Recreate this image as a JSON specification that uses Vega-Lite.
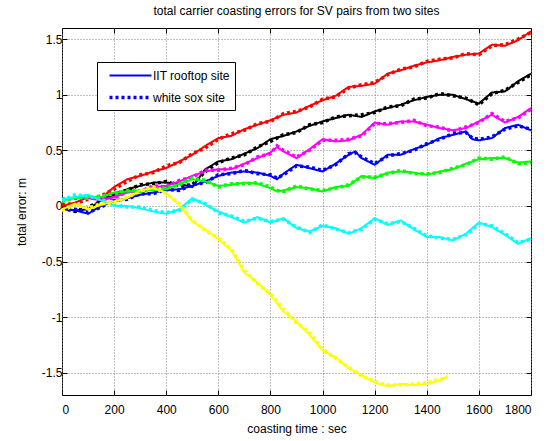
{
  "$schema": "https://vega.github.io/schema/vega-lite/v6.json",
  "autosize": "none",
  "width": 469,
  "height": 367,
  "padding": {"left": 62, "top": 28, "right": 27, "bottom": 46},
  "background": "white",
  "title": {"text": "total carrier coasting errors for SV pairs from two sites", "fontSize": 12, "fontWeight": "normal", "font": "Liberation Sans", "color": "black", "offset": 10},
  "data": {"values": [
    {"t":0,"c":"r","a":0.00,"b":0.01},{"t":50,"c":"r","a":0.03,"b":0.02},{"t":100,"c":"r","a":0.08,"b":0.06},{"t":150,"c":"r","a":0.07,"b":0.09},{"t":200,"c":"r","a":0.17,"b":0.15},{"t":250,"c":"r","a":0.24,"b":0.22},{"t":300,"c":"r","a":0.27,"b":0.28},{"t":350,"c":"r","a":0.31,"b":0.30},{"t":400,"c":"r","a":0.34,"b":0.36},{"t":450,"c":"r","a":0.40,"b":0.39},{"t":500,"c":"r","a":0.46,"b":0.47},{"t":550,"c":"r","a":0.54,"b":0.52},{"t":600,"c":"r","a":0.61,"b":0.60},{"t":650,"c":"r","a":0.63,"b":0.65},{"t":700,"c":"r","a":0.69,"b":0.68},{"t":750,"c":"r","a":0.73,"b":0.74},{"t":800,"c":"r","a":0.77,"b":0.76},{"t":850,"c":"r","a":0.82,"b":0.83},{"t":900,"c":"r","a":0.84,"b":0.85},{"t":950,"c":"r","a":0.90,"b":0.89},{"t":1000,"c":"r","a":0.95,"b":0.96},{"t":1050,"c":"r","a":0.99,"b":0.98},{"t":1100,"c":"r","a":1.07,"b":1.06},{"t":1150,"c":"r","a":1.08,"b":1.09},{"t":1200,"c":"r","a":1.10,"b":1.11},{"t":1250,"c":"r","a":1.19,"b":1.18},{"t":1300,"c":"r","a":1.22,"b":1.23},{"t":1350,"c":"r","a":1.26,"b":1.25},{"t":1400,"c":"r","a":1.29,"b":1.30},{"t":1450,"c":"r","a":1.31,"b":1.32},{"t":1500,"c":"r","a":1.34,"b":1.33},{"t":1550,"c":"r","a":1.36,"b":1.37},{"t":1600,"c":"r","a":1.37,"b":1.36},{"t":1650,"c":"r","a":1.45,"b":1.44},{"t":1700,"c":"r","a":1.44,"b":1.45},{"t":1750,"c":"r","a":1.49,"b":1.50},{"t":1800,"c":"r","a":1.57,"b":1.56},
    {"t":0,"c":"k","a":-0.03,"b":-0.02},{"t":50,"c":"k","a":-0.04,"b":-0.05},{"t":100,"c":"k","a":-0.03,"b":-0.01},{"t":150,"c":"k","a":0.05,"b":0.04},{"t":200,"c":"k","a":0.10,"b":0.11},{"t":250,"c":"k","a":0.15,"b":0.14},{"t":300,"c":"k","a":0.18,"b":0.19},{"t":350,"c":"k","a":0.21,"b":0.20},{"t":400,"c":"k","a":0.21,"b":0.22},{"t":450,"c":"k","a":0.20,"b":0.18},{"t":500,"c":"k","a":0.17,"b":0.19},{"t":550,"c":"k","a":0.33,"b":0.31},{"t":600,"c":"k","a":0.40,"b":0.39},{"t":650,"c":"k","a":0.42,"b":0.43},{"t":700,"c":"k","a":0.47,"b":0.46},{"t":750,"c":"k","a":0.52,"b":0.53},{"t":800,"c":"k","a":0.60,"b":0.58},{"t":850,"c":"k","a":0.63,"b":0.64},{"t":900,"c":"k","a":0.67,"b":0.66},{"t":950,"c":"k","a":0.72,"b":0.73},{"t":1000,"c":"k","a":0.76,"b":0.75},{"t":1050,"c":"k","a":0.79,"b":0.80},{"t":1100,"c":"k","a":0.82,"b":0.81},{"t":1150,"c":"k","a":0.80,"b":0.82},{"t":1200,"c":"k","a":0.85,"b":0.84},{"t":1250,"c":"k","a":0.88,"b":0.89},{"t":1300,"c":"k","a":0.91,"b":0.90},{"t":1350,"c":"k","a":0.95,"b":0.96},{"t":1400,"c":"k","a":0.98,"b":0.97},{"t":1450,"c":"k","a":1.00,"b":1.01},{"t":1500,"c":"k","a":1.00,"b":0.99},{"t":1550,"c":"k","a":0.96,"b":0.97},{"t":1600,"c":"k","a":0.92,"b":0.91},{"t":1650,"c":"k","a":1.02,"b":1.01},{"t":1700,"c":"k","a":1.03,"b":1.04},{"t":1750,"c":"k","a":1.12,"b":1.11},{"t":1800,"c":"k","a":1.19,"b":1.18},
    {"t":0,"c":"m","a":0.05,"b":0.06},{"t":50,"c":"m","a":0.08,"b":0.07},{"t":100,"c":"m","a":0.07,"b":0.08},{"t":150,"c":"m","a":0.05,"b":0.06},{"t":200,"c":"m","a":0.08,"b":0.07},{"t":250,"c":"m","a":0.12,"b":0.13},{"t":300,"c":"m","a":0.14,"b":0.13},{"t":350,"c":"m","a":0.17,"b":0.18},{"t":400,"c":"m","a":0.18,"b":0.17},{"t":450,"c":"m","a":0.22,"b":0.23},{"t":500,"c":"m","a":0.27,"b":0.26},{"t":550,"c":"m","a":0.31,"b":0.32},{"t":600,"c":"m","a":0.33,"b":0.32},{"t":650,"c":"m","a":0.33,"b":0.34},{"t":700,"c":"m","a":0.38,"b":0.37},{"t":750,"c":"m","a":0.43,"b":0.44},{"t":800,"c":"m","a":0.48,"b":0.47},{"t":825,"c":"m","a":0.53,"b":0.54},{"t":850,"c":"m","a":0.49,"b":0.50},{"t":900,"c":"m","a":0.43,"b":0.44},{"t":950,"c":"m","a":0.51,"b":0.50},{"t":1000,"c":"m","a":0.60,"b":0.59},{"t":1050,"c":"m","a":0.58,"b":0.59},{"t":1100,"c":"m","a":0.59,"b":0.60},{"t":1150,"c":"m","a":0.64,"b":0.63},{"t":1200,"c":"m","a":0.75,"b":0.74},{"t":1250,"c":"m","a":0.73,"b":0.74},{"t":1300,"c":"m","a":0.76,"b":0.75},{"t":1350,"c":"m","a":0.76,"b":0.77},{"t":1400,"c":"m","a":0.73,"b":0.72},{"t":1450,"c":"m","a":0.70,"b":0.71},{"t":1500,"c":"m","a":0.68,"b":0.67},{"t":1550,"c":"m","a":0.70,"b":0.71},{"t":1600,"c":"m","a":0.76,"b":0.75},{"t":1650,"c":"m","a":0.82,"b":0.83},{"t":1700,"c":"m","a":0.75,"b":0.76},{"t":1750,"c":"m","a":0.80,"b":0.79},{"t":1800,"c":"m","a":0.88,"b":0.87},
    {"t":0,"c":"b","a":-0.02,"b":-0.03},{"t":50,"c":"b","a":-0.04,"b":-0.03},{"t":100,"c":"b","a":-0.07,"b":-0.06},{"t":150,"c":"b","a":0.00,"b":-0.01},{"t":200,"c":"b","a":0.04,"b":0.05},{"t":250,"c":"b","a":0.07,"b":0.06},{"t":300,"c":"b","a":0.10,"b":0.11},{"t":350,"c":"b","a":0.12,"b":0.11},{"t":400,"c":"b","a":0.14,"b":0.15},{"t":450,"c":"b","a":0.15,"b":0.14},{"t":500,"c":"b","a":0.18,"b":0.19},{"t":550,"c":"b","a":0.22,"b":0.21},{"t":600,"c":"b","a":0.27,"b":0.28},{"t":650,"c":"b","a":0.30,"b":0.29},{"t":700,"c":"b","a":0.31,"b":0.32},{"t":750,"c":"b","a":0.30,"b":0.29},{"t":800,"c":"b","a":0.27,"b":0.28},{"t":825,"c":"b","a":0.24,"b":0.25},{"t":850,"c":"b","a":0.29,"b":0.28},{"t":900,"c":"b","a":0.37,"b":0.36},{"t":950,"c":"b","a":0.34,"b":0.35},{"t":1000,"c":"b","a":0.31,"b":0.32},{"t":1050,"c":"b","a":0.38,"b":0.37},{"t":1100,"c":"b","a":0.46,"b":0.47},{"t":1125,"c":"b","a":0.49,"b":0.48},{"t":1150,"c":"b","a":0.43,"b":0.44},{"t":1200,"c":"b","a":0.37,"b":0.38},{"t":1250,"c":"b","a":0.46,"b":0.45},{"t":1300,"c":"b","a":0.46,"b":0.47},{"t":1350,"c":"b","a":0.51,"b":0.50},{"t":1400,"c":"b","a":0.55,"b":0.56},{"t":1450,"c":"b","a":0.61,"b":0.60},{"t":1500,"c":"b","a":0.64,"b":0.65},{"t":1550,"c":"b","a":0.67,"b":0.66},{"t":1575,"c":"b","a":0.60,"b":0.61},{"t":1600,"c":"b","a":0.59,"b":0.60},{"t":1650,"c":"b","a":0.61,"b":0.62},{"t":1700,"c":"b","a":0.70,"b":0.69},{"t":1750,"c":"b","a":0.73,"b":0.72},{"t":1800,"c":"b","a":0.68,"b":0.69},
    {"t":0,"c":"g","a":0.05,"b":0.04},{"t":50,"c":"g","a":0.07,"b":0.08},{"t":100,"c":"g","a":0.08,"b":0.07},{"t":150,"c":"g","a":0.08,"b":0.09},{"t":200,"c":"g","a":0.12,"b":0.11},{"t":250,"c":"g","a":0.13,"b":0.14},{"t":300,"c":"g","a":0.14,"b":0.13},{"t":350,"c":"g","a":0.14,"b":0.15},{"t":400,"c":"g","a":0.15,"b":0.16},{"t":450,"c":"g","a":0.20,"b":0.19},{"t":500,"c":"g","a":0.24,"b":0.25},{"t":550,"c":"g","a":0.22,"b":0.23},{"t":600,"c":"g","a":0.18,"b":0.17},{"t":650,"c":"g","a":0.19,"b":0.20},{"t":700,"c":"g","a":0.21,"b":0.20},{"t":750,"c":"g","a":0.20,"b":0.21},{"t":800,"c":"g","a":0.16,"b":0.17},{"t":825,"c":"g","a":0.13,"b":0.14},{"t":850,"c":"g","a":0.14,"b":0.13},{"t":900,"c":"g","a":0.17,"b":0.18},{"t":950,"c":"g","a":0.16,"b":0.15},{"t":1000,"c":"g","a":0.13,"b":0.14},{"t":1050,"c":"g","a":0.17,"b":0.16},{"t":1100,"c":"g","a":0.18,"b":0.19},{"t":1150,"c":"g","a":0.27,"b":0.26},{"t":1200,"c":"g","a":0.25,"b":0.26},{"t":1250,"c":"g","a":0.30,"b":0.29},{"t":1300,"c":"g","a":0.31,"b":0.32},{"t":1350,"c":"g","a":0.30,"b":0.29},{"t":1400,"c":"g","a":0.28,"b":0.29},{"t":1450,"c":"g","a":0.31,"b":0.30},{"t":1500,"c":"g","a":0.33,"b":0.34},{"t":1550,"c":"g","a":0.38,"b":0.37},{"t":1600,"c":"g","a":0.42,"b":0.43},{"t":1650,"c":"g","a":0.43,"b":0.42},{"t":1700,"c":"g","a":0.43,"b":0.44},{"t":1750,"c":"g","a":0.39,"b":0.38},{"t":1800,"c":"g","a":0.40,"b":0.39},
    {"t":0,"c":"c","a":0.06,"b":0.05},{"t":50,"c":"c","a":0.08,"b":0.10},{"t":100,"c":"c","a":0.10,"b":0.09},{"t":150,"c":"c","a":0.05,"b":0.06},{"t":200,"c":"c","a":0.00,"b":0.01},{"t":250,"c":"c","a":0.00,"b":-0.01},{"t":300,"c":"c","a":-0.02,"b":-0.01},{"t":350,"c":"c","a":-0.05,"b":-0.04},{"t":400,"c":"c","a":-0.07,"b":-0.06},{"t":450,"c":"c","a":-0.03,"b":-0.04},{"t":500,"c":"c","a":0.07,"b":0.06},{"t":550,"c":"c","a":0.01,"b":0.02},{"t":600,"c":"c","a":-0.05,"b":-0.06},{"t":650,"c":"c","a":-0.10,"b":-0.09},{"t":700,"c":"c","a":-0.15,"b":-0.14},{"t":750,"c":"c","a":-0.10,"b":-0.11},{"t":800,"c":"c","a":-0.15,"b":-0.14},{"t":850,"c":"c","a":-0.11,"b":-0.12},{"t":900,"c":"c","a":-0.20,"b":-0.19},{"t":950,"c":"c","a":-0.23,"b":-0.24},{"t":1000,"c":"c","a":-0.18,"b":-0.17},{"t":1050,"c":"c","a":-0.20,"b":-0.21},{"t":1100,"c":"c","a":-0.25,"b":-0.24},{"t":1150,"c":"c","a":-0.20,"b":-0.21},{"t":1200,"c":"c","a":-0.11,"b":-0.12},{"t":1250,"c":"c","a":-0.17,"b":-0.16},{"t":1300,"c":"c","a":-0.13,"b":-0.14},{"t":1350,"c":"c","a":-0.21,"b":-0.20},{"t":1400,"c":"c","a":-0.28,"b":-0.27},{"t":1450,"c":"c","a":-0.28,"b":-0.29},{"t":1500,"c":"c","a":-0.31,"b":-0.30},{"t":1550,"c":"c","a":-0.25,"b":-0.26},{"t":1600,"c":"c","a":-0.15,"b":-0.16},{"t":1650,"c":"c","a":-0.19,"b":-0.18},{"t":1700,"c":"c","a":-0.26,"b":-0.25},{"t":1750,"c":"c","a":-0.34,"b":-0.33},{"t":1800,"c":"c","a":-0.29,"b":-0.30},
    {"t":0,"c":"y","a":-0.03,"b":-0.04},{"t":50,"c":"y","a":0.02,"b":0.01},{"t":100,"c":"y","a":-0.03,"b":-0.02},{"t":150,"c":"y","a":0.01,"b":0.02},{"t":200,"c":"y","a":0.04,"b":0.03},{"t":250,"c":"y","a":0.07,"b":0.08},{"t":300,"c":"y","a":0.14,"b":0.13},{"t":350,"c":"y","a":0.16,"b":0.17},{"t":400,"c":"y","a":0.12,"b":0.11},{"t":450,"c":"y","a":0.01,"b":0.02},{"t":500,"c":"y","a":-0.14,"b":-0.13},{"t":550,"c":"y","a":-0.21,"b":-0.22},{"t":600,"c":"y","a":-0.30,"b":-0.29},{"t":650,"c":"y","a":-0.40,"b":-0.39},{"t":700,"c":"y","a":-0.60,"b":-0.58},{"t":750,"c":"y","a":-0.69,"b":-0.70},{"t":800,"c":"y","a":-0.80,"b":-0.79},{"t":850,"c":"y","a":-0.95,"b":-0.93},{"t":900,"c":"y","a":-1.04,"b":-1.05},{"t":950,"c":"y","a":-1.16,"b":-1.14},{"t":1000,"c":"y","a":-1.30,"b":-1.29},{"t":1050,"c":"y","a":-1.36,"b":-1.37},{"t":1100,"c":"y","a":-1.46,"b":-1.45},{"t":1150,"c":"y","a":-1.52,"b":-1.53},{"t":1200,"c":"y","a":-1.59,"b":-1.58},{"t":1250,"c":"y","a":-1.62,"b":-1.61},{"t":1300,"c":"y","a":-1.60,"b":-1.61},{"t":1350,"c":"y","a":-1.61,"b":-1.60},{"t":1400,"c":"y","a":-1.60,"b":-1.59},{"t":1450,"c":"y","a":-1.57,"b":-1.56},{"t":1480,"c":"y","a":-1.53,"b":-1.54}
  ]},
  "transform": [{"fold": ["a", "b"], "as": ["site", "v"]}],
  "layer": [
    {
      "mark": {"type": "line", "clip": true},
      "encoding": {
        "x": {"field": "t", "type": "quantitative", "scale": {"domain": [0, 1800], "nice": false, "zero": false},
          "axis": {"values": [0,200,400,600,800,1000,1200,1400,1600,1800], "labelExpr": "toString(datum.value)", "title": "coasting time : sec", "grid": true, "tickSize": -5, "labelPadding": 14, "titlePadding": 8}},
        "y": {"field": "v", "type": "quantitative", "scale": {"domain": [-1.7, 1.6], "nice": false, "zero": false},
          "axis": {"values": [-1.5,-1,-0.5,0,0.5,1,1.5], "labelExpr": "toString(datum.value)", "title": "total error: m", "grid": true, "tickSize": -5, "labelPadding": 5, "titlePadding": 13}},
        "color": {"field": "c", "type": "nominal", "legend": null,
          "scale": {"domain": ["r","k","m","b","g","c","y"], "range": ["#ff0000","#000000","#ff00ff","#0000ff","#00ff00","#00ffff","#ffff00"]}},
        "strokeDash": {"field": "site", "type": "nominal",
          "scale": {"domain": ["a","b"], "range": [[1,0],[3,3]]},
          "legend": {"title": null, "orient": "none", "legendX": 35, "legendY": 34, "labelExpr": "datum.label == 'a' ? 'IIT rooftop site' : 'white sox site'"}},
        "strokeWidth": {"field": "site", "type": "nominal", "legend": null,
          "scale": {"domain": ["a","b"], "range": [2, 3.5]}},
        "order": {"field": "t", "type": "quantitative"}
      }
    },
    {
      "mark": {"type": "point", "opacity": 0},
      "encoding": {
        "x": {"field": "t", "type": "quantitative", "axis": {"orient": "top", "values": [0,200,400,600,800,1000,1200,1400,1600,1800], "labels": false, "title": null, "grid": false, "tickSize": -5}},
        "y": {"field": "v", "type": "quantitative", "axis": {"orient": "right", "values": [-1.5,-1,-0.5,0,0.5,1,1.5], "labels": false, "title": null, "grid": false, "tickSize": -5}}
      }
    }
  ],
  "resolve": {"axis": {"x": "independent", "y": "independent"}},
  "config": {
    "font": "Liberation Sans",
    "view": {"stroke": "black", "strokeWidth": 1},
    "axis": {"domain": false, "tickColor": "black", "tickWidth": 1, "labelFontSize": 12, "labelColor": "black", "labelFont": "Liberation Sans",
      "titleFontSize": 12, "titleFontWeight": "normal", "titleColor": "black", "titleFont": "Liberation Sans",
      "gridColor": "#808080", "gridDash": [1, 2], "gridWidth": 1, "gridOpacity": 1},
    "legend": {"strokeColor": "black", "fillColor": "white", "padding": 5, "symbolType": "M-2.8,0H2.8", "symbolSize": 225,
      "symbolStrokeColor": "#0000ff", "symbolStrokeWidth": 2.5, "symbolOffset": 19, "labelFontSize": 12, "labelColor": "black", "labelFont": "Liberation Sans",
      "rowPadding": 6, "labelOffset": 13, "cornerRadius": 0}
  }
}
